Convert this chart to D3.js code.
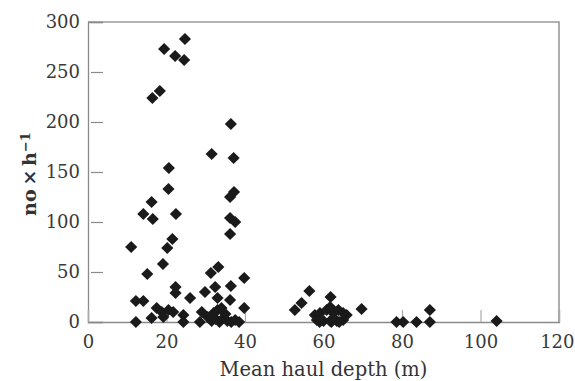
<!DOCTYPE html>
<html>
<head>
<meta charset="utf-8">
<script src="https://cdn.jsdelivr.net/npm/d3@7"></script>
<style>
    body { margin: 0; background: #fff; }
    text { font-family: "DejaVu Serif", serif; fill: #333; }
</style>
</head>
<body>
<div id="chart"></div>
<script>
// Mean haul depth (m) for each haul
const depth = [
    24.7, 19.4, 22.2, 24.5, 18.3, 16.4, 36.4, 31.5, 37.1, 20.6,
    20.5, 37.2, 36.2, 16.2, 14.1, 16.5, 22.4, 36.2, 37.5, 36.2,
    21.5, 20.2, 11.0, 19.1, 15.1, 33.2, 31.3, 39.8, 36.4, 22.3,
    22.3, 32.4, 29.8, 26.0, 12.2, 14.1, 33.0, 36.2, 39.8, 29.0,
    17.5, 18.8, 20.5, 21.7, 16.2, 24.3, 19.2, 12.2, 24.3, 28.5,
    32.0, 33.0, 34.0, 31.5, 32.5, 33.5, 34.5, 35.5, 36.5, 37.5,
    30.5, 35.0, 38.5,
    56.4, 52.7, 54.4, 61.8, 69.7, 87.1,
    57.8, 59.1, 60.8, 61.7, 62.5, 63.8, 65.0, 65.9,
    58.3, 60.0, 61.7, 63.4, 65.0, 59.0, 62.0, 64.0,
    78.6, 80.3, 83.7, 87.1, 104.1
];

// Catch rate (no x h^-1) for each haul
const rate = [
    283, 273, 266, 262, 231, 224, 198, 168, 164, 154,
    133, 130, 125, 120, 108, 103, 108, 104, 100, 88,
    83, 74, 75, 58, 48, 55, 49, 44, 36, 35,
    29, 35, 30, 24, 21, 21, 24, 22, 14, 10,
    14, 10, 12, 10, 4, 7, 5, 0, 0, 0,
    9, 12, 14, 1, 3, 0, 4, 1, 0, 2,
    5, 8, 0,
    31, 12, 19, 25, 13, 12,
    7, 9, 12, 15, 9, 12, 9, 7,
    2, 1, 1, 1, 2, 0, 0, 0,
    0, 0, 0, 0, 1
];

const xTicks = [0, 20, 40, 60, 80, 100, 120];
const yTicks = [0, 50, 100, 150, 200, 250, 300];

const svg = d3.select("#chart").append("svg")
    .attr("width", 575)
    .attr("height", 381);

const margin = { top: 22, right: 16, bottom: 59, left: 88 };
const width = 575 - margin.left - margin.right;
const height = 381 - margin.top - margin.bottom;

const g = svg.append("g").attr("transform", `translate(${margin.left},${margin.top})`);

const x = d3.scaleLinear().domain([0, 120]).range([0, width]);
const y = d3.scaleLinear().domain([0, 300]).range([height, 0]);

// frame (top and right)
g.append("path")
    .attr("d", `M0,0H${width}V${height}`)
    .attr("fill", "none")
    .attr("stroke", "#9a9a9a")
    .attr("stroke-width", 1.6);

const yAxis = g.append("g")
    .call(d3.axisLeft(y).tickValues(yTicks).tickSize(-15).tickPadding(8));
yAxis.select(".domain").attr("stroke", "#8a8a8a").attr("stroke-width", 1.3);
yAxis.selectAll(".tick line").attr("x1", 3).attr("stroke", "#8a8a8a").attr("stroke-width", 1.2);
yAxis.selectAll("text").style("font-size", "18px").style("fill", "#3a3a3a");

const xAxis = g.append("g")
    .attr("transform", `translate(0,${height})`)
    .call(d3.axisBottom(x).tickValues(xTicks).tickSize(-12).tickPadding(13));
xAxis.select(".domain").attr("stroke", "#8a8a8a").attr("stroke-width", 1.3);
xAxis.selectAll(".tick line").attr("stroke", "#aaa").attr("stroke-width", 1.2);
xAxis.selectAll("text").style("font-size", "18px").style("fill", "#3a3a3a");
// keep the last label inside the window
xAxis.selectAll(".tick text").filter(d => d === 120)
    .attr("text-anchor", "end")
    .attr("x", 575 - margin.left - width - 1);

// points
const pts = depth.map((d, i) => ({ depth: d, rate: rate[i] }));
const diamond = d3.symbol().type(d3.symbolSquare).size(74);

g.selectAll(".pt")
    .data(pts)
    .enter().append("path")
    .attr("class", "pt")
    .attr("d", diamond)
    .attr("transform", d => `translate(${x(d.depth)},${y(d.rate)}) rotate(45)`)
    .attr("fill", "#1a1a1a");

// axis titles
svg.append("text")
    .attr("x", margin.left + width / 2)
    .attr("y", 376)
    .attr("text-anchor", "middle")
    .style("font-size", "19.5px")
    .text("Mean haul depth (m)");

const yt = svg.append("text")
    .attr("transform", `translate(36,${margin.top + height / 2 + 2}) rotate(-90)`)
    .attr("text-anchor", "middle")
    .style("font-size", "19px")
    .style("font-weight", "bold");
yt.append("tspan").text("no\u2009\u00d7\u2009h");
yt.append("tspan")
    .attr("dy", "-0.45em")
    .style("font-size", "13px")
    .text("\u22121");
</script>
</body>
</html>
